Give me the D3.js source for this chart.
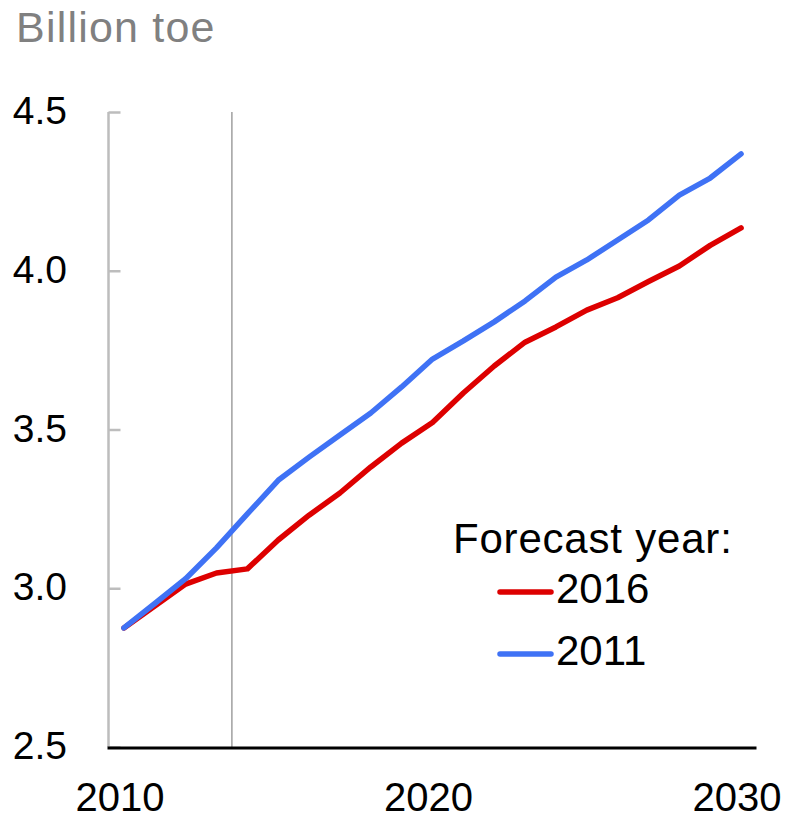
<!DOCTYPE html>
<html>
<head>
<meta charset="utf-8">
<script src="https://cdn.jsdelivr.net/npm/d3@7"></script>
<style>
  body { margin: 0; background: #fff; }
  text { font-family: "Liberation Sans", Arial, sans-serif; }
</style>
</head>
<body>
<div id="chart"></div>
<script>
const years = d3.range(2010, 2031);
const forecast2016 = [2.875, 2.944, 3.013, 3.048, 3.061, 3.152, 3.23, 3.30, 3.382, 3.457, 3.522,
  3.615, 3.70, 3.775, 3.823, 3.876, 3.915, 3.966, 4.015, 4.08, 4.135];
const forecast2011 = [2.875, 2.952, 3.03, 3.127, 3.234, 3.34, 3.413, 3.483, 3.552, 3.634, 3.722,
  3.779, 3.839, 3.905, 3.98, 4.034, 4.097, 4.16, 4.238, 4.292, 4.368];
const yTicks = [2.5, 3.0, 3.5, 4.0, 4.5];
const xTicks = [2010, 2020, 2030];
const markerYear = 2013.5;

const width = 792, height = 818;

const svg = d3.select("#chart").append("svg")
  .attr("width", width)
  .attr("height", height);

const x = d3.scaleLinear().domain([2009.5, 2030.5]).range([108.5, 756.5]);
const y = d3.scaleLinear().domain([2.5, 4.5]).range([747, 112]);

// unit label
svg.append("text")
  .attr("x", 16).attr("y", 42)
  .attr("fill", "#808080")
  .style("font-size", "43px")
  .style("letter-spacing", "1.2px")
  .text("Billion toe");

// y axis: grey line with inward ticks
const yAxis = svg.append("g")
  .attr("transform", `translate(${x.range()[0]},0)`)
  .call(d3.axisRight(y).tickValues(yTicks).tickSize(12).tickFormat(""));
yAxis.select(".domain").attr("stroke", "#bdbdbd").attr("stroke-width", 2.5)
  .attr("d", `M0,${y(2.5)}V${y(4.5)}`);
yAxis.selectAll(".tick line").attr("stroke", "#bdbdbd").attr("stroke-width", 2.5);

svg.selectAll(".ylab")
  .data(yTicks)
  .join("text")
  .attr("class", "ylab")
  .attr("x", 67)
  .attr("y", d => y(d) + 12)
  .attr("text-anchor", "end")
  .style("font-size", "39px")
  .text(d => d.toFixed(1));

// vertical marker line
svg.append("line")
  .attr("x1", x(markerYear)).attr("x2", x(markerYear))
  .attr("y1", y(4.5)).attr("y2", y(2.5))
  .attr("stroke", "#707070")
  .attr("stroke-width", 1);

// x axis
svg.append("line")
  .attr("x1", x.range()[0] - 1).attr("x2", x.range()[1])
  .attr("y1", y(2.5) + 1).attr("y2", y(2.5) + 1)
  .attr("stroke", "#000")
  .attr("stroke-width", 3);

svg.selectAll(".xlab")
  .data(xTicks)
  .join("text")
  .attr("class", "xlab")
  .attr("x", d => x(d) - 4)
  .attr("y", 811)
  .attr("text-anchor", "middle")
  .style("font-size", "40px")
  .text(d => d);

// lines
const line = d3.line()
  .x((d, i) => x(years[i]))
  .y(d => y(d));

const series = [
  { name: "2016", values: forecast2016, color: "#dd0000" },
  { name: "2011", values: forecast2011, color: "#3f72f5" }
];

svg.selectAll(".series")
  .data(series)
  .join("path")
  .attr("class", "series")
  .attr("d", d => line(d.values))
  .attr("fill", "none")
  .attr("stroke", d => d.color)
  .attr("stroke-width", 5.5)
  .attr("stroke-linejoin", "round")
  .attr("stroke-linecap", "round");

// legend
svg.append("text")
  .attr("x", 453).attr("y", 553)
  .style("font-size", "42px")
  .style("letter-spacing", "0.8px")
  .text("Forecast year:");

const legend = svg.selectAll(".legend")
  .data(series)
  .join("g")
  .attr("class", "legend")
  .attr("transform", (d, i) => `translate(0,${603 + i * 62})`);

legend.append("line")
  .attr("x1", 500).attr("x2", 551)
  .attr("y1", -11).attr("y2", -11)
  .attr("stroke", d => d.color)
  .attr("stroke-width", 5.5)
  .attr("stroke-linecap", "round");

legend.append("text")
  .attr("x", 556).attr("y", 0)
  .style("font-size", "42px")
  .text(d => d.name);
</script>
</body>
</html>
